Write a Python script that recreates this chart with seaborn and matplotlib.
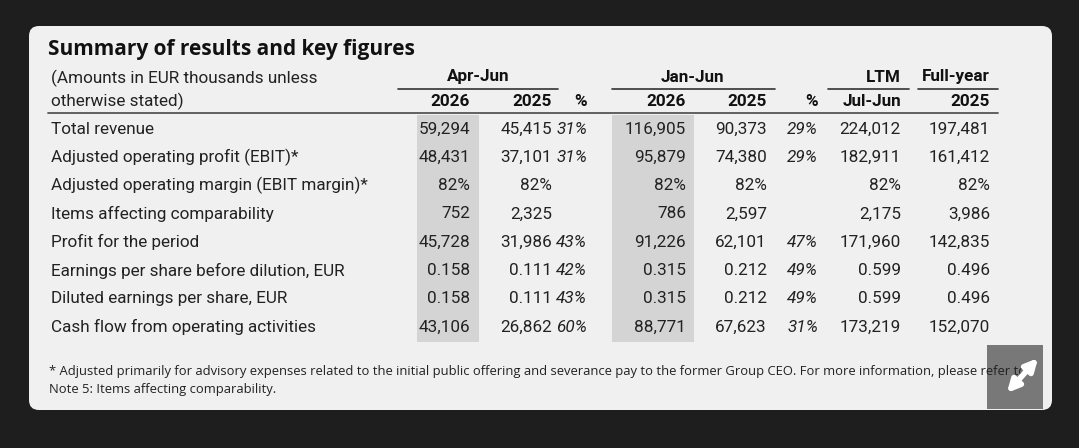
import matplotlib.pyplot as plt
import seaborn as sns
from matplotlib.patches import FancyBboxPatch, Rectangle

sns.set_theme(style="white")
plt.rcParams['font.family'] = ['Roboto', 'DejaVu Sans']

# Table data
row_labels = ["Total revenue", "Adjusted operating profit (EBIT)*",
              "Adjusted operating margin (EBIT margin)*", "Items affecting comparability",
              "Profit for the period", "Earnings per share before dilution, EUR",
              "Diluted earnings per share, EUR", "Cash flow from operating activities"]
q2_2026 = ["59,294", "48,431", "82%", "752", "45,728", "0.158", "0.158", "43,106"]
q2_2025 = ["45,415", "37,101", "82%", "2,325", "31,986", "0.111", "0.111", "26,862"]
q2_pct = ["31%", "31%", "", "", "43%", "42%", "43%", "60%"]
h1_2026 = ["116,905", "95,879", "82%", "786", "91,226", "0.315", "0.315", "88,771"]
h1_2025 = ["90,373", "74,380", "82%", "2,597", "62,101", "0.212", "0.212", "67,623"]
h1_pct = ["29%", "29%", "", "", "47%", "49%", "49%", "31%"]
ltm = ["224,012", "182,911", "82%", "2,175", "171,960", "0.599", "0.599", "173,219"]
full_year = ["197,481", "161,412", "82%", "3,986", "142,835", "0.496", "0.496", "152,070"]

columns = [q2_2026, q2_2025, q2_pct, h1_2026, h1_2025, h1_pct, ltm, full_year]
col_right = [470, 552, 587, 686, 767, 818, 901, 990]
col_italic = [False, False, True, False, False, True, False, False]
FS = 12.3

fig = plt.figure(figsize=(10.79, 4.48), dpi=100, facecolor="#1e1e1e")
ax = fig.add_axes([0, 0, 1, 1])
ax.set_xlim(0, 1079)
ax.set_ylim(448, 0)
ax.axis("off")

ax.add_patch(FancyBboxPatch((29, 26), 1023, 384, boxstyle="round,pad=0,rounding_size=10",
                            fc="#f0f0f0", ec="none"))

row_y = [129 + i * 28.3 for i in range(len(row_labels))]
# shaded columns
ax.add_patch(Rectangle((417, 115), 62, 227, fc="#d4d4d4", ec="none"))
ax.add_patch(Rectangle((612, 115), 82, 227, fc="#d4d4d4", ec="none"))

ax.text(48, 49, "Summary of results and key figures", fontsize=15, fontweight="bold",
        family=["Open Sans", "DejaVu Sans"], va="center", color="#111")
ax.text(51, 78, "(Amounts in EUR thousands unless", fontsize=FS, va="center", color="#222")
ax.text(51, 101, "otherwise stated)", fontsize=FS, va="center", color="#222")

hdr = dict(fontsize=FS, fontweight="bold", va="center", color="#111")
ax.text(478, 77, "Apr-Jun", ha="center", **hdr)
ax.text(692, 77, "Jan-Jun", ha="center", **hdr)
ax.text(901, 77, "LTM", ha="right", **hdr)
ax.text(990, 77, "Full-year", ha="right", **hdr)
for x0, x1 in [(398, 558), (612, 775), (828, 909), (918, 998)]:
    ax.plot([x0, x1], [89, 89], color="#333", lw=1.2)
for txt, x in zip(["2026", "2025", "%", "2026", "2025", "%", "Jul-Jun", "2025"], col_right):
    ax.text(x, 101, txt, ha="right", **hdr)
ax.plot([48, 998], [113, 113], color="#555", lw=1.3)

for y, lab in zip(row_y, row_labels):
    ax.text(51, y, lab, fontsize=FS, va="center", color="#222")
for col, x, it in zip(columns, col_right, col_italic):
    for y, v in zip(row_y, col):
        ax.text(x, y, v, ha="right", va="center", fontsize=FS, color="#222",
                style="italic" if it else "normal")

foot = dict(fontsize=9.4, family=["Open Sans", "DejaVu Sans"], va="center", color="#222")
ax.text(49, 372, "* Adjusted primarily for advisory expenses related to the initial public offering "
        "and severance pay to the former Group CEO. For more information, please refer to", **foot)
ax.text(49, 390, "Note 5: Items affecting comparability.", **foot)

# expand icon
ax.add_patch(Rectangle((987, 345), 56, 64, fc="#6b6b6b", ec="none", alpha=0.9))
ax.annotate("", xy=(1040, 356), xytext=(1005, 395),
            arrowprops=dict(arrowstyle="<|-|>", color="white", lw=4, mutation_scale=18))

fig.savefig("out.png", dpi=100, facecolor=fig.get_facecolor())
